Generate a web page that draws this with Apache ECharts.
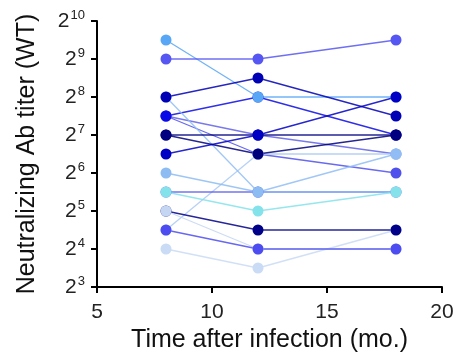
<!DOCTYPE html>
<html>
<head>
<meta charset="utf-8">
<script src="https://cdn.jsdelivr.net/npm/echarts@6/dist/echarts.min.js"></script>
<style>html,body{margin:0;padding:0;background:#fff}#c{width:460px;height:364px}</style>
</head>
<body>
<div id="c"></div>
<script>
// Time points (months after infection)
const months = [8, 12, 18];
// Y tick exponents (titer = 2^n)
const yTicks = [3, 4, 5, 6, 7, 8, 9, 10];
// Per-subject log2 neutralizing titers at 8, 12, 18 months (drawing order)
const subjF = [7.5, 7, 6.5];
const subjG = [7.5, 6.5, 6];
const subjE = [7.5, 8, 7];
const subjA = [9.5, 8, 8];
const subjQ = [4.5, 6.5, 6.5];
const subjD = [8, 5.5, 6.5];
const subjC = [8, 8.5, 7.5];
const subjI = [7, 6.5, 7];
const subjH = [7, 7, 7];
const subjJ = [6.5, 7, 8];
const subjL = [5.5, 5.5, 5.5];
const subjK = [6, 5.5, 5.5];
const subjM = [5.5, 5, 5.5];
const subjR = [4, 3.5, 4.5];
const subjN = [5, 4.5, 4.5];
const subjO = [5, 4, 4];
const subjP = [4.5, 4, 4];
const subjB = [9, 9, 9.5];

const subjects = [subjF, subjG, subjE, subjA, subjQ, subjD, subjC, subjI, subjH, subjJ, subjL, subjK, subjM, subjR, subjN, subjO, subjP, subjB];
const colors = ['#6262e8', '#5050ec', '#0a0ae6', '#58a6f6', '#a9c9f5', '#8fbdf4', '#0000b4', '#00007a', '#000080', '#0000c4', '#5c5cf0', '#8cbcf2', '#84e2ea', '#c9dbf5', '#000088', '#c4d6f2', '#4c4cf0', '#5656f2'];

const series = subjects.map((s, i) => ({
  type: 'line',
  data: s.map((v, j) => [months[j], v]),
  symbol: 'circle',
  symbolSize: 11,
  showSymbol: true,
  lineStyle: { width: 1.3, color: colors[i], opacity: 0.85 },
  itemStyle: { color: colors[i] },
  emphasis: { disabled: true },
  animation: false
}));

const chart = echarts.init(document.getElementById('c'), null, { renderer: 'canvas' });
const font = 'Liberation Sans, Arial, sans-serif';
chart.setOption({
  animation: false,
  grid: { left: 97, right: 18, top: 21, bottom: 77, containLabel: false, outerBoundsMode: 'none' },
  xAxis: {
    type: 'value', min: 5, max: 20, interval: 5,
    name: 'Time after infection (mo.)', nameLocation: 'middle', nameGap: 35,
    nameTextStyle: { fontSize: 25, color: '#111', fontFamily: font },
    axisLine: { lineStyle: { color: '#000', width: 2 } },
    axisTick: { show: true, length: 6, lineStyle: { color: '#000', width: 2 } },
    axisLabel: { fontSize: 21, color: '#222', fontFamily: font, margin: 15 },
    splitLine: { show: false }
  },
  yAxis: {
    type: 'value', min: yTicks[0], max: yTicks[yTicks.length - 1], interval: 1,
    name: 'Neutralizing Ab titer (WT)', nameLocation: 'middle', nameGap: 57,
    nameTextStyle: { fontSize: 25, color: '#111', fontFamily: font },
    axisLine: { show: true, lineStyle: { color: '#000', width: 2 } },
    axisTick: { show: true, length: 6, lineStyle: { color: '#000', width: 2 } },
    axisLabel: {
      margin: 12,
      formatter: v => '{b|2}{s|' + v + '}',
      rich: {
        b: { fontSize: 21, color: '#222', fontFamily: font, lineHeight: 22 },
        s: { fontSize: 13, color: '#222', fontFamily: font, padding: [0, 0, 11, 1] }
      }
    },
    splitLine: { show: false }
  },
  series: series
});
</script>
</body>
</html>
